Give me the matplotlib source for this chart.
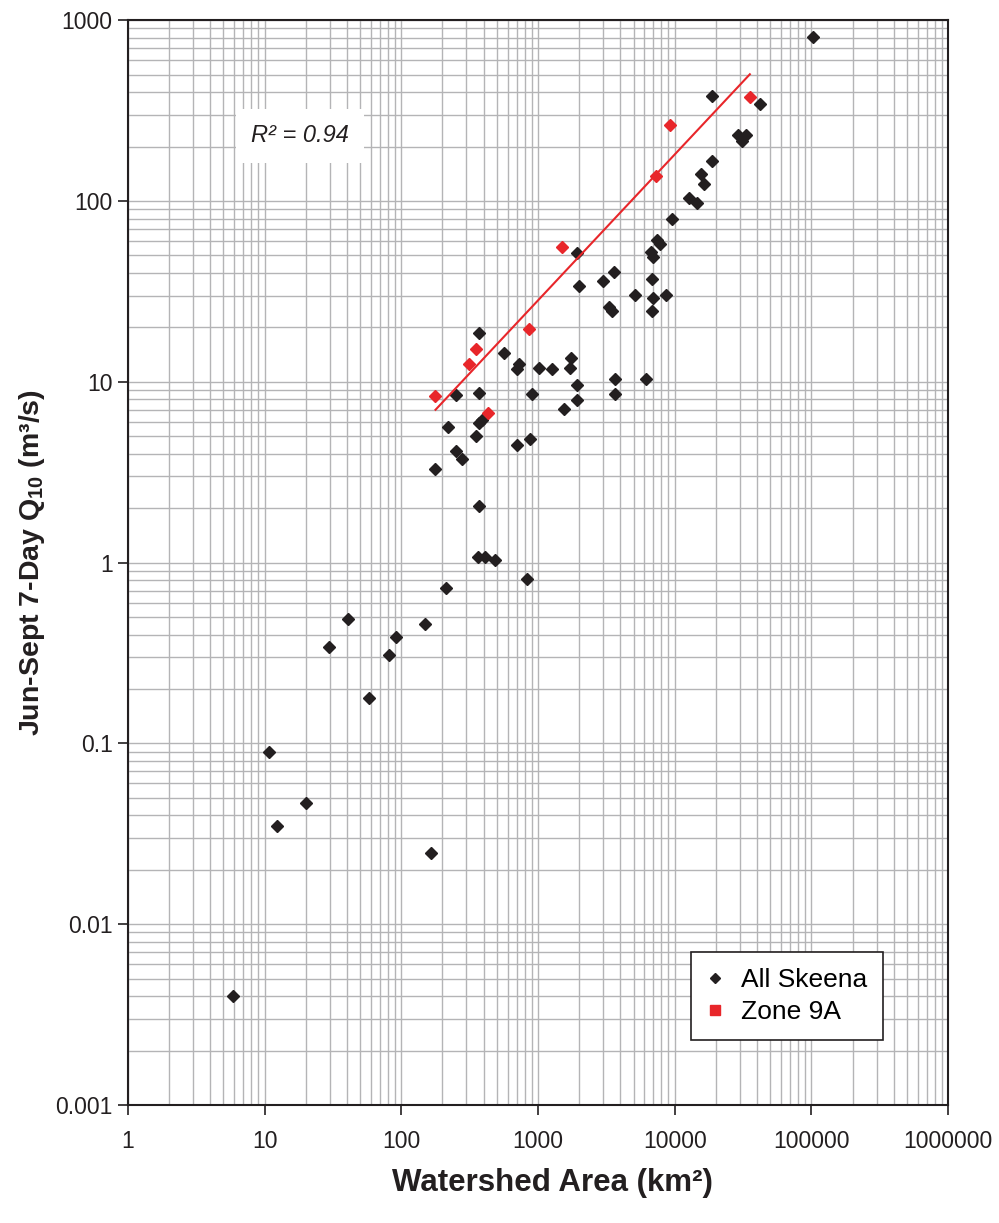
import numpy as np
import matplotlib
matplotlib.use("Agg")
from matplotlib import pyplot as plt
from matplotlib.lines import Line2D
from matplotlib.ticker import LogLocator, FixedLocator, FixedFormatter, NullFormatter

plt.rcParams['font.family'] = ['Liberation Sans', 'DejaVu Sans']
plt.rcParams['mathtext.fontset'] = 'custom'
plt.rcParams['mathtext.bf'] = 'Liberation Sans:bold'
plt.rcParams['mathtext.rm'] = 'Liberation Sans'

# all Skeena stations: watershed area (km2) and Jun-Sept 7-day Q10 (m3/s)
skeena_area = [5.9, 10.7, 12.3, 20.0, 29.5, 40.7, 57.9, 81.2, 91.3, 149,
               165, 178, 214, 220, 251, 251, 277, 351, 370, 368,
               370, 389, 370, 365, 411, 484, 563, 728, 704, 704,
               826, 877, 902, 1020, 1259, 1538, 1730, 1711, 1915, 1915,
               1936, 2000, 2970, 3573, 3318, 3475, 3673, 3673, 5114, 6121,
               6668, 6966, 6841, 6966, 6841, 8577, 7379, 7795, 9547, 12640,
               14460, 15560, 16440, 18620, 18620, 29150, 33170, 30850, 42000, 102600]
skeena_q10 = [0.004, 0.090, 0.035, 0.047, 0.34, 0.49, 0.178, 0.31, 0.39, 0.456,
              0.0247, 3.31, 0.728, 5.63, 8.4, 4.13, 3.72, 5.02, 18.5, 8.68,
              5.93, 6.13, 2.06, 1.08, 1.08, 1.04, 14.5, 12.5, 11.7, 4.46,
              0.807, 4.82, 8.54, 11.9, 11.7, 7.03, 13.6, 11.9, 9.62, 7.88,
              51.6, 33.9, 36.0, 40.4, 26.0, 24.7, 10.4, 8.54, 30.2, 10.4,
              52.3, 49.3, 36.8, 28.9, 24.7, 30.2, 61.2, 57.7, 80.0, 104,
              97.6, 141, 124, 167, 381, 233, 233, 215, 343, 805]

# Zone 9A stations
zone_area = [178, 314, 351, 432, 853, 1503, 7285, 9230, 35490]
zone_q10 = [8.36, 12.6, 15.1, 6.73, 19.5, 55.3, 137, 262, 374]

x_ticks = [1, 10, 100, 1000, 10000, 100000, 1000000]
x_labels = ['1', '10', '100', '1000', '10000', '100000', '1000000']
y_ticks = [0.001, 0.01, 0.1, 1, 10, 100, 1000]
y_labels = ['0.001', '0.01', '0.1', '1', '10', '100', '1000']

black = '#231f20'
red = '#e8262a'

# power-law trendline for zone 9A
lx = np.log10(zone_area)
ly = np.log10(zone_q10)
slope, icept = np.polyfit(lx, ly, 1)
r2 = np.corrcoef(lx, ly)[0, 1] ** 2
xs = np.sort(np.array(zone_area, dtype=float))
fit = 10 ** (icept + slope * np.log10(xs))

fig = plt.figure(figsize=(9.99, 12.23), dpi=100)
ax = fig.add_axes([0.128, 0.0965, 0.821, 0.887])
ax.set_xscale('log')
ax.set_yscale('log')
ax.set_xlim(1, 1e6)
ax.set_ylim(0.001, 1000)

ax.xaxis.set_major_locator(FixedLocator(x_ticks))
ax.xaxis.set_major_formatter(FixedFormatter(x_labels))
ax.yaxis.set_major_locator(FixedLocator(y_ticks))
ax.yaxis.set_major_formatter(FixedFormatter(y_labels))
ax.xaxis.set_minor_locator(LogLocator(base=10, subs=np.arange(2, 10), numticks=20))
ax.yaxis.set_minor_locator(LogLocator(base=10, subs=np.arange(2, 10), numticks=20))
ax.xaxis.set_minor_formatter(NullFormatter())
ax.yaxis.set_minor_formatter(NullFormatter())

ax.grid(True, which='both', color='#b4b4b6', lw=1.0)
ax.set_axisbelow(True)
ax.tick_params(which='major', direction='out', length=7, width=1.2, labelsize=16.5,
               color=black, labelcolor=black)
ax.tick_params(axis='y', pad=4)
ax.tick_params(axis='x', pad=11)
ax.tick_params(which='minor', length=0)
for s in ax.spines.values():
    s.set_linewidth(1.5)
    s.set_color(black)

ax.plot(skeena_area, skeena_q10, ls='none', marker='D', ms=6, color=black, zorder=3)
ax.plot(xs, fit, color=red, lw=1.5, zorder=4)
ax.plot(zone_area, zone_q10, ls='none', marker='D', ms=6, color=red, zorder=5)

fig.text(300 / 999, 1 - 136 / 1223, 'R² = %.2f' % r2, fontsize=17, style='italic',
         color=black, ha='center', va='center',
         bbox=dict(facecolor='white', edgecolor='none', pad=11))

ax.set_xlabel('Watershed Area (km²)', fontsize=22.5, fontweight='bold', color=black)
ax.xaxis.set_label_coords(0.518, -0.058)
ax.set_ylabel('Jun-Sept 7-Day Q$_\\mathbf{10}$ (m³/s)', fontsize=20.5, fontweight='bold',
              labelpad=6, color=black)

handles = [Line2D([], [], ls='none', marker='D', ms=5.5, color=black),
           Line2D([], [], ls='none', marker='s', ms=6.5, color=red)]
leg = ax.legend(handles, ['All Skeena', 'Zone 9A'], loc='lower right',
                bbox_to_anchor=(0.9207, 0.0599), fontsize=19, frameon=True, fancybox=False,
                handletextpad=0.7, borderpad=0.6, labelspacing=0.3, handlelength=0.6,
                borderaxespad=0)
leg.get_frame().set_edgecolor(black)
leg.get_frame().set_linewidth(1.2)
leg.get_frame().set_facecolor('white')
leg.get_frame().set_alpha(1)

fig.savefig('out.png', dpi=100)
